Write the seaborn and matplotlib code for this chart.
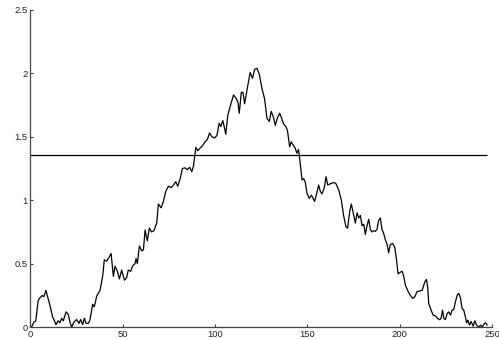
import numpy as np
import pandas as pd
import matplotlib
matplotlib.use("Agg")
import matplotlib.pyplot as plt
import seaborn as sns

# Sampled trace (position, amplitude)
x_pos = [0.6, 1.9, 2.9, 4.2, 5.1, 6.4, 7.3, 8.4, 9.1, 10.6, 12.0, 12.7, 13.8, 15.0, 16.0,
         16.9, 17.8, 19.3, 20.5, 21.4, 22.3, 23.6, 25.0, 26.3, 27.2, 28.3, 29.2, 30.1, 31.4,
         32.3, 33.7, 34.6, 35.9, 37.7, 39.2, 40.0, 41.3, 42.6, 43.7, 44.9, 45.8, 47.1, 48.2,
         49.4, 50.9, 52.1, 53.0, 54.3, 55.3, 56.6, 57.2, 57.9, 59.0, 60.3, 61.2, 62.1, 63.3,
         64.4, 65.6, 66.9, 68.4, 69.3, 70.8, 72.0, 73.3, 74.7, 76.2, 77.5, 78.7, 79.8, 81.1,
         82.3, 83.8, 85.0, 86.2, 87.4, 88.3, 89.6, 90.6, 91.9, 93.2, 94.6, 95.9, 97.0, 98.3,
         99.7, 101.0, 102.2, 103.1, 104.2, 105.1, 105.8, 106.9, 108.2, 110.0, 111.5, 112.4,
         113.1, 114.2, 115.1, 116.0, 116.7, 117.8, 119.0, 120.3, 121.4, 122.7, 124.0, 125.4,
         126.8, 128.1, 129.4, 130.4, 131.7, 132.6, 133.8, 135.0, 136.2, 137.1, 138.4, 139.2,
         140.4, 141.2, 143.4, 144.3, 145.2, 146.2, 147.1, 148.0, 148.9, 149.8, 151.0, 152.2,
         152.9, 153.9, 154.8, 156.1, 157.0, 157.9, 159.2, 160.1, 161.0, 162.5, 164.3, 165.5,
         167.0, 168.4, 169.6, 170.9, 171.8, 172.9, 173.8, 175.1, 176.0, 176.9, 177.8, 178.7,
         179.6, 180.5, 181.4, 182.3, 183.2, 184.1, 185.0, 185.9, 186.8, 187.7, 188.6, 189.5,
         190.4, 191.3, 192.2, 193.2, 194.0, 194.9, 196.2, 197.3, 198.2, 199.1, 200.0, 201.3,
         202.2, 203.1, 204.6, 205.8, 207.1, 208.2, 209.4, 210.9, 212.2, 213.6, 214.5, 215.2,
         215.7, 217.0, 218.1, 219.4, 220.6, 221.7, 222.4, 223.2, 223.9, 224.8, 225.7, 226.6,
         227.5, 228.4, 229.3, 230.2, 231.1, 232.0, 232.9, 233.8, 234.7, 235.6, 236.2, 236.9,
         237.8, 238.7, 239.8, 240.7, 241.6, 242.9, 243.8, 244.7, 245.6, 246.5, 247.4]
y_val = [0.0, 0.04, 0.05, 0.21, 0.23, 0.25, 0.24, 0.29, 0.25, 0.17, 0.08, 0.06, 0.02, 0.05, 0.035,
         0.07, 0.05, 0.12, 0.10, 0.04, 0.0, 0.04, 0.06, 0.03, 0.06, 0.02, 0.07, 0.03, 0.03,
         0.06, 0.18, 0.16, 0.245, 0.29, 0.41, 0.53, 0.52, 0.55, 0.58, 0.40, 0.48, 0.44, 0.38,
         0.45, 0.37, 0.39, 0.45, 0.44, 0.48, 0.50, 0.54, 0.50, 0.64, 0.60, 0.61, 0.765, 0.68,
         0.78, 0.75, 0.76, 0.82, 0.97, 0.94, 0.99, 1.07, 1.11, 1.10, 1.12, 1.146, 1.11, 1.17,
         1.25, 1.255, 1.24, 1.26, 1.225, 1.27, 1.417, 1.39, 1.41, 1.43, 1.46, 1.48, 1.53, 1.50,
         1.49, 1.51, 1.606, 1.58, 1.627, 1.57, 1.52, 1.67, 1.74, 1.83, 1.80, 1.77,
         1.685, 1.85, 1.85, 1.76, 1.82, 1.91, 2.006, 1.96, 2.03, 2.04, 1.99, 1.88,
         1.80, 1.646, 1.62, 1.70, 1.65, 1.59, 1.65, 1.685, 1.64, 1.60, 1.58, 1.55,
         1.42, 1.46, 1.41, 1.37, 1.40, 1.28, 1.16, 1.17, 1.14, 1.054, 1.015, 1.04,
         1.02, 0.99, 1.04, 1.12, 1.07, 1.05, 1.10, 1.185, 1.12, 1.13, 1.14, 1.13,
         1.08, 1.00, 0.88, 0.79, 0.78, 0.91, 0.97, 0.88, 0.82, 0.90, 0.86, 0.88,
         0.80, 0.81, 0.73, 0.80, 0.85, 0.77, 0.75, 0.76, 0.755, 0.77, 0.84, 0.86,
         0.77, 0.74, 0.69, 0.65, 0.586, 0.65, 0.66, 0.63, 0.54, 0.42, 0.43, 0.44,
         0.40, 0.33, 0.28, 0.25, 0.226, 0.24, 0.28, 0.285, 0.29, 0.357, 0.376, 0.31,
         0.187, 0.134, 0.095, 0.087, 0.068, 0.058, 0.07, 0.134, 0.068, 0.06, 0.108, 0.12,
         0.095, 0.134, 0.14, 0.20, 0.25, 0.266, 0.23, 0.147, 0.134, 0.08, 0.034, 0.055,
         0.016, 0.045, 0.008, 0.05, 0.016, 0.0, 0.016, 0.0, 0.024, 0.034, 0.016]

# Horizontal reference level and its extent
level = 1.357
level_span = [0.0, 247.5]

x_ticks = [0, 50, 100, 150, 200, 250]
y_ticks = [0, 0.5, 1, 1.5, 2, 2.5]
y_tick_labels = ["0", "0.5", "1", "1.5", "2", "2.5"]

sns.set_style("ticks")
plt.rcParams["font.family"] = ["Liberation Sans", "DejaVu Sans"]
plt.rcParams["xtick.direction"] = "in"
plt.rcParams["ytick.direction"] = "in"

df = pd.DataFrame({"x": x_pos, "y": y_val})

fig = plt.figure(figsize=(4.99, 3.39), dpi=100)
ax = fig.add_axes([0.061, 0.035, 0.925, 0.936])

sns.lineplot(data=df, x="x", y="y", ax=ax, color="black", linewidth=0.9,
             estimator=None, sort=False)
ax.hlines(level, level_span[0], level_span[1], color="black", linewidth=0.9)

ax.set_xlim(0, 250)
ax.set_ylim(0, 2.5)
ax.set_xticks(x_ticks)
ax.set_xticklabels([str(t) for t in x_ticks])
ax.set_yticks(y_ticks)
ax.set_yticklabels(y_tick_labels)
ax.set_xlabel("")
ax.set_ylabel("")

sns.despine(ax=ax)
for side in ("left", "bottom"):
    ax.spines[side].set_color("#444444")
    ax.spines[side].set_linewidth(0.9)
ax.tick_params(axis="both", length=2.5, width=0.8, color="#444444",
               labelsize=6.8, pad=2, labelcolor="#222222")

fig.savefig("out.png", dpi=100)
